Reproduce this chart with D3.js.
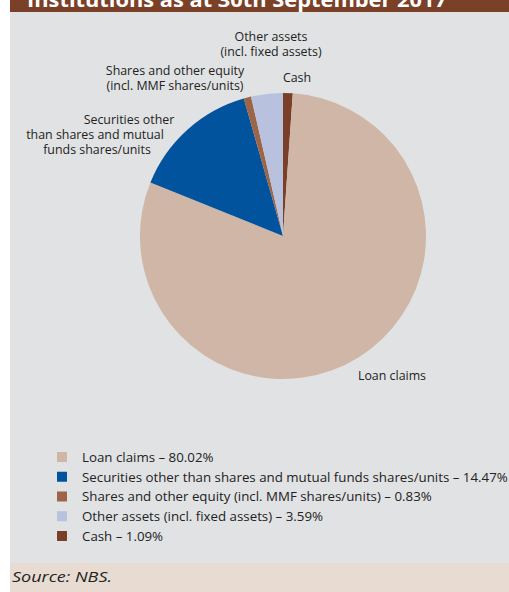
<!DOCTYPE html>
<html><head><meta charset="utf-8">
<script src="https://cdn.jsdelivr.net/npm/d3@7"></script>
<style>body{margin:0;background:#fff}svg{display:block}text{font-family:"Open Sans",sans-serif}</style>
</head><body>
<svg id="c" width="509" height="592"></svg>
<script>
const title = "Institutions as at 30th September 2017";
const categories = ["Loan claims","Securities other than shares and mutual funds shares/units","Shares and other equity (incl. MMF shares/units)","Other assets (incl. fixed assets)","Cash"];
const values = [80.02, 14.47, 0.83, 3.59, 1.09];
const colors = ["#cfb6a6","#00539c","#9c6548","#b8c1de","#7b3f27"];
const pieLabels = [
  ["Loan claims"],
  ["Securities other","than shares and mutual","funds shares/units"],
  ["Shares and other equity","(incl. MMF shares/units)"],
  ["Other assets","(incl. fixed assets)"],
  ["Cash"]
];
const source = "Source: NBS.";

const svg = d3.select("#c");
svg.append("rect").attr("x",10).attr("y",0).attr("width",499).attr("height",563).attr("fill","#e1e2e4");
svg.append("rect").attr("x",10).attr("y",0).attr("width",499).attr("height",12).attr("fill","#7b4128");
svg.append("text").attr("x",27).attr("y",7).attr("fill","#fff").attr("font-weight","bold").attr("font-size",20)
  .attr("textLength",420).attr("lengthAdjust","spacingAndGlyphs").text(title);
svg.append("rect").attr("x",10).attr("y",563).attr("width",499).attr("height",29).attr("fill","#e8dcd2");
svg.append("text").attr("x",12).attr("y",582).attr("font-style","italic").attr("font-size",15).attr("fill","#222")
  .attr("textLength",100).attr("lengthAdjust","spacingAndGlyphs").text(source);

// pie: cash first from 12 o'clock, then remaining in legend order
const order = [4,0,1,2,3];
const data = order.map(i=>({i, v:values[i]}));
const pie = d3.pie().sort(null).value(d=>d.v);
const arc = d3.arc().innerRadius(0).outerRadius(143);
const g = svg.append("g").attr("transform","translate(283,236)");
g.selectAll("path").data(pie(data)).join("path").attr("d",arc).attr("fill",d=>colors[d.data.i]);

// labels
const labelPos = [
  [[392,380]],
  [[129,124],[95,139],[97,154]],
  [[175,75],[175,90]],
  [[271,41],[271,56]],
  [[297,82]]
];
labelPos.forEach((lines,i)=>{
  lines.forEach((p,j)=>{
    svg.append("text").attr("x",p[0]).attr("y",p[1]).attr("text-anchor","middle").attr("font-size",12.4).attr("fill","#222").text(pieLabels[i][j]);
  });
});

// legend
const ly = d3.scalePoint().domain(d3.range(categories.length)).range([457,536]);
const leg = svg.append("g");
categories.forEach((c,i)=>{
  leg.append("rect").attr("x",57).attr("y",ly(i)-5).attr("width",10).attr("height",10).attr("fill",colors[i]);
  leg.append("text").attr("x",82).attr("y",ly(i)+4.8).attr("font-size",13.3).attr("fill","#222")
    .text(c+" – "+values[i].toFixed(2)+"%");
});
</script>
</body></html>
